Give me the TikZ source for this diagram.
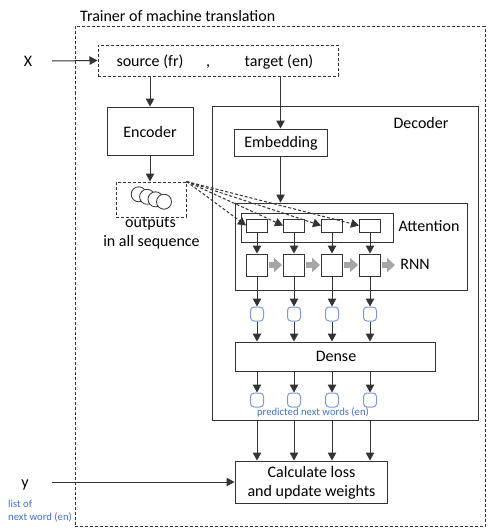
\documentclass[tikz,border=0pt]{standalone}
\usepackage{fontspec}
\setmainfont{Carlito}
\usetikzlibrary{arrows.meta}
\definecolor{lc}{HTML}{333333}
\definecolor{bluetxt}{HTML}{4472C4}
\definecolor{bluebox}{HTML}{7C9BD6}
\definecolor{garr}{HTML}{A6A6A6}
\begin{document}
\begin{tikzpicture}[x=1pt,y=-1pt,
  every node/.style={font=\fontsize{16}{19}\selectfont, text=black, inner sep=0pt},
  box/.style={draw=lc, line width=1pt, rectangle, fill=white},
  dbox/.style={draw=lc, line width=1pt, dash pattern=on 3pt off 2pt, rectangle},
  rbox/.style={draw=bluebox, line width=1pt, rounded corners=3.5pt, minimum width=13pt, minimum height=14pt},
  arr/.style={draw=lc, line width=1pt, -{Triangle[length=8pt,width=8.5pt]}},
  darr/.style={arr, dash pattern=on 3pt off 2pt},
  garrow/.style={draw=garr, line width=6pt, -{Triangle[length=8pt,width=14pt]}, shorten <=1pt, shorten >=1pt},
  lbl/.style={anchor=base},
  small/.style={font=\fontsize{10.7}{13}\selectfont, text=bluetxt}
]
\useasboundingbox (0,0) rectangle (489,530);

% outer trainer box
\node[dbox, minimum width=410pt, minimum height=500pt] (outer) at (280,276.5) {};
\node[anchor=base west] (title) at (80,21.5) {Trainer of machine translation};

% inputs
\node[lbl] (X) at (28,66) {X};
\node[dbox, minimum width=240pt, minimum height=31pt] (src) at (218,60.5) {};
\node[lbl] (srct) at (150,66) {source (fr)};
\node[lbl] (comma) at (208,66) {,};
\node[lbl] (tgtt) at (279,66) {target (en)};
\draw[arr] (52,61) coordinate (Xend) -- (src.west);

% encoder
\node[box, minimum width=86pt, minimum height=48pt] (enc) at (150,131) {};
\node[lbl] (enct) at (150,137.3) {Encoder};
\draw[arr] (enc.north |- src.south) -- (enc.north);

% outputs
\node[dbox, minimum width=70pt, minimum height=35pt] (outs) at (151,199.5) {};
\foreach \k/\cx/\cy in {1/138.7/194.3, 2/147.1/196.8, 3/155.5/199.3, 4/164/201.7} {
  \draw[lc, line width=0.8pt, fill=white] (\cx,\cy) circle[radius=7.5pt];
}
\node[lbl] (outt1) at (150.5,227.7) {outputs};
\node[lbl] (outt2) at (151.5,246.5) {in all sequence};
\draw[arr] (enc.south) -- (enc.south |- outs.north);

% decoder
\node[box, fill=none, minimum width=266pt, minimum height=314pt] (dec) at (345,263) {};
\node[lbl] (dect) at (421,128) {Decoder};
\node[box, minimum width=93pt, minimum height=27pt] (emb) at (280.5,142.5) {};
\node[lbl] (embt) at (281,147.5) {Embedding};
\draw[arr] (emb.north |- src.south) -- (emb.north);

\node[box, fill=none, minimum width=232pt, minimum height=87pt] (big) at (351,246.5) {};
\draw[arr] (emb.south) -- (emb.south |- big.north);
\node[box, fill=none, minimum width=152pt, minimum height=29pt] (att) at (317,227.5) {};
\node[lbl] (attt) at (429,231.7) {Attention};
\node[lbl] (rnnt) at (415,269) {RNN};

\foreach \i/\x in {1/257,2/294,3/332,4/370} {
  \node[box, minimum width=21pt, minimum height=13pt] (a\i) at (\x,225.5) {};
  \node[box, minimum width=21pt, minimum height=22pt] (r\i) at (\x,265) {};
  \node[rbox] (p\i) at (\x,314) {};
  \node[rbox] (q\i) at (\x,400) {};
}
\node[box, minimum width=200pt, minimum height=29pt] (dense) at (335,356.5) {};
\node[lbl] (denset) at (336,361) {Dense};
\node[lbl, small] (predt) at (313,415.5) {predicted next words (en)};

\foreach \i in {1,2,3,4} {
  \draw[darr] (outs.north east) -- (a\i.west);
  \draw[arr] (a\i.south) -- (r\i.north);
  \draw[arr] (r\i.south) -- (p\i.north);
  \draw[arr] (p\i.south) -- (p\i.south |- dense.north);
  \draw[arr] (q\i.north |- dense.south) -- (q\i.north);
}
\draw[garrow] (r1.east) -- (r2.west);
\draw[garrow] (r2.east) -- (r3.west);
\draw[garrow] (r3.east) -- (r4.west);
\coordinate (rnnin) at (396,265);
\draw[garrow] (r4.east) -- (rnnin);

% loss
\node[box, minimum width=152pt, minimum height=42pt] (calc) at (311,482) {};
\node[lbl] (calct1) at (311.5,477.7) {Calculate loss};
\node[lbl] (calct2) at (311.5,496.7) {and update weights};
\foreach \i in {1,2,3,4} {
  \draw[arr] (q\i.south |- dec.south) -- (q\i.south |- calc.north);
}

\node[lbl] (Y) at (25,487) {y};
\draw[arr] (52,482) coordinate (Yend) -- (calc.west);
\node[anchor=base west, small] (yl1) at (8,507) {list of};
\node[anchor=base west, small] (yl2) at (8,520.5) {next word (en)};
\end{tikzpicture}
\end{document}
